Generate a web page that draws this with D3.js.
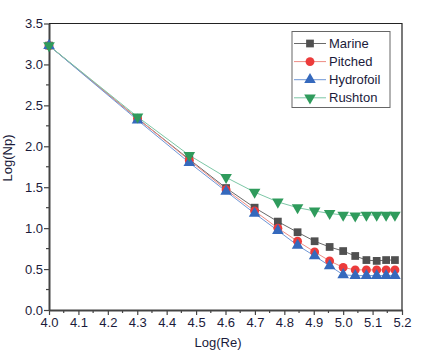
<!DOCTYPE html>
<html><head><meta charset="utf-8">
<script src="https://cdn.jsdelivr.net/npm/d3@7"></script>
<style>body{margin:0;background:#fff}svg{display:block}text{font-family:"Liberation Sans",Arial,sans-serif}</style>
</head><body><svg id="c" width="422" height="350"></svg>
<script>
const logRe = [4.0, 4.301, 4.477, 4.602, 4.699, 4.778, 4.845, 4.903, 4.954, 5.0, 5.041, 5.079, 5.114, 5.146, 5.176];
const marine    = [3.23, 2.34, 1.84, 1.49, 1.25, 1.08, 0.95, 0.84, 0.77, 0.72, 0.66, 0.61, 0.60, 0.61, 0.61];
const pitched   = [3.23, 2.34, 1.83, 1.47, 1.21, 1.00, 0.84, 0.71, 0.60, 0.52, 0.49, 0.49, 0.49, 0.49, 0.49];
const hydrofoil = [3.23, 2.32, 1.80, 1.45, 1.18, 0.97, 0.79, 0.66, 0.54, 0.43, 0.42, 0.42, 0.42, 0.42, 0.42];
const rushton   = [3.23, 2.36, 1.89, 1.62, 1.44, 1.32, 1.25, 1.21, 1.18, 1.16, 1.15, 1.16, 1.16, 1.16, 1.16];
const seriesNames = ["Marine", "Pitched", "Hydrofoil", "Rushton"];
const xTicks = [4.0, 4.1, 4.2, 4.3, 4.4, 4.5, 4.6, 4.7, 4.8, 4.9, 5.0, 5.1, 5.2];
const yTicks = [0.0, 0.5, 1.0, 1.5, 2.0, 2.5, 3.0, 3.5];

const series = [
  {name: seriesNames[0], values: marine, line: "#6a6a6a", fill: "#505050", sym: d3.symbolSquare, size: 60},
  {name: seriesNames[1], values: pitched, line: "#ee8c84", fill: "#ec3b3b", sym: d3.symbolCircle, size: 62},
  {name: seriesNames[2], values: hydrofoil, line: "#6f97d6", fill: "#3569bd", sym: d3.symbolTriangle, size: 58},
  {name: seriesNames[3], values: rushton, line: "#7cc7a6", fill: "#2f9b5c", sym: d3.symbolTriangle, size: 58, flip: true}
];

const FS = "13px";
const svg = d3.select("#c");
const L = 49, R = 402, T = 23.5, B = 310;
const x = d3.scaleLinear().domain([4.0, 5.2]).range([L, R]);
const y = d3.scaleLinear().domain([0, 3.5]).range([B, T]);

svg.append("path").attr("d", `M${L},${T}H${R}V${B}`).attr("fill","none").attr("stroke","#222").attr("stroke-width",1.2);

const xMinor = d3.range(4.05, 5.2, 0.1);
const yMinor = d3.range(0.25, 3.5, 0.5);
svg.append("g").selectAll("line").data(xMinor).join("line")
  .attr("x1", d=>x(d)).attr("x2", d=>x(d)).attr("y1", B).attr("y2", B+3).attr("stroke","#444").attr("stroke-width",1.2);
svg.append("g").selectAll("line").data(yMinor).join("line")
  .attr("y1", d=>y(d)).attr("y2", d=>y(d)).attr("x1", L).attr("x2", L-3).attr("stroke","#444").attr("stroke-width",1.2);

const xAxis = svg.append("g").attr("transform", `translate(0,${B})`)
  .call(d3.axisBottom(x).tickValues(xTicks).tickFormat(d3.format(".1f")).tickSize(5).tickSizeOuter(0));
const yAxis = svg.append("g").attr("transform", `translate(${L},0)`)
  .call(d3.axisLeft(y).tickValues(yTicks).tickFormat(d3.format(".1f")).tickSize(5).tickSizeOuter(0));
[xAxis, yAxis].forEach(g => {
  g.select(".domain").attr("stroke","#444").attr("stroke-width",2);
  g.selectAll(".tick line").attr("stroke","#444").attr("stroke-width",1.2);
  g.selectAll(".tick text").attr("fill","#1a1a3a").style("font-size",FS).style("font-family","Liberation Sans, Arial, sans-serif");
});
xAxis.selectAll(".tick text").attr("dy","0.95em").attr("y",5);
yAxis.selectAll(".tick text").attr("x",-6);

svg.append("text").attr("x", 218).attr("y", 347).attr("text-anchor","middle").attr("fill","#1a1a3a").style("font-size",FS).text("Log(Re)");
svg.append("text").attr("transform","translate(12,158) rotate(-90)").attr("text-anchor","middle").attr("fill","#1a1a3a").style("font-size",FS).text("Log(Np)");

const lineGen = d3.line().x((d,i)=>x(logRe[i])).y(d=>y(d));
series.forEach(s => {
  svg.append("path").datum(s.values).attr("d", lineGen).attr("fill","none").attr("stroke", s.line).attr("stroke-width",1);
});
series.forEach(s => {
  const sym = d3.symbol().type(s.sym).size(s.size);
  svg.append("g").selectAll("path").data(s.values).join("path")
    .attr("d", sym)
    .attr("transform", (d,i)=>`translate(${x(logRe[i])},${y(d)})${s.flip?" rotate(180)":""}`)
    .attr("fill", s.fill);
});

const lg = svg.append("g");
lg.append("rect").attr("x",292).attr("y",31.5).attr("width",98).attr("height",76).attr("fill","#fff").attr("stroke","#666").attr("stroke-width",1);
series.forEach((s,i) => {
  const cy = 43.5 + i*18.1;
  lg.append("line").attr("x1",294).attr("x2",326).attr("y1",cy).attr("y2",cy).attr("stroke", s.line).attr("stroke-width",1);
  lg.append("path").attr("d", d3.symbol().type(s.sym).size(s.size)()).attr("transform",`translate(310,${cy})${s.flip?" rotate(180)":""}`).attr("fill", s.fill);
  lg.append("text").attr("x",329).attr("y",cy+4.5).attr("fill","#1a1a3a").style("font-size",FS).text(s.name);
});
</script></body></html>
